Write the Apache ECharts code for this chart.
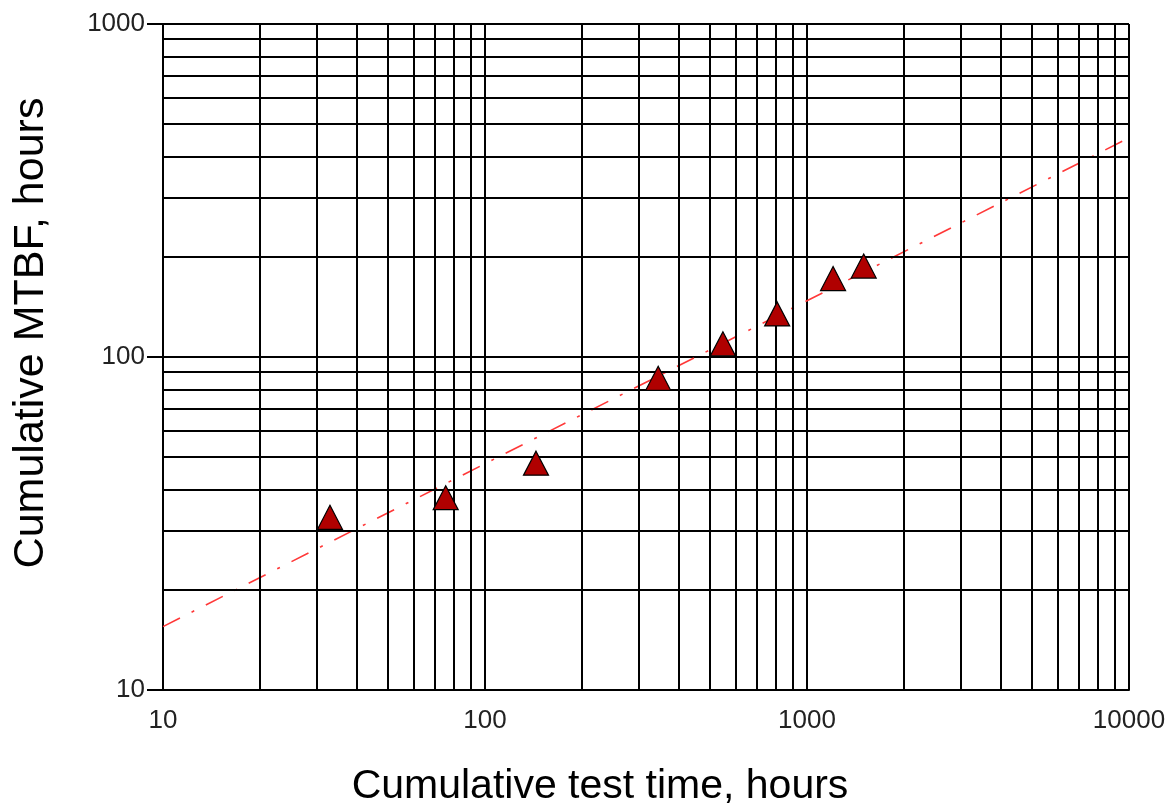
<!DOCTYPE html>
<html>
<head>
<meta charset="utf-8">
<script src="https://cdn.jsdelivr.net/npm/echarts@6/dist/echarts.min.js"></script>
<style>
  html, body { margin: 0; padding: 0; background: #ffffff; }
  #chart { width: 1172px; height: 803px; }
</style>
</head>
<body>
<div id="chart"></div>
<script>
// Cumulative test time (hours) at each failure and the cumulative MTBF there
const testTime = [33, 75.5, 144, 345, 548, 808, 1205, 1500];
const cumulativeMTBF = [33, 37.8, 48, 86.3, 109.6, 134.7, 172, 187.5];

// Fitted growth trend, given by its end points
const trendTime = [10, 10000];
const trendMTBF = [15.5, 455];

// Axis ranges (decades)
const xRange = [10, 10000];
const yRange = [10, 1000];

// Intermediate grid steps inside each decade
const minorSteps = [2, 3, 4, 5, 6, 7, 8, 9];

function minorValues(range) {
  const out = [];
  for (let d = range[0]; d < range[1]; d *= 10) {
    minorSteps.forEach(function (m) { out.push(d * m); });
  }
  return out;
}

const gridLines = minorValues(xRange).map(function (v) { return { xAxis: v }; })
  .concat(minorValues(yRange).map(function (v) { return { yAxis: v }; }));

const points = testTime.map(function (t, i) { return [t, cumulativeMTBF[i]]; });
const trend = trendTime.map(function (t, i) { return [t, trendMTBF[i]]; });

const font = '"Liberation Sans", Arial, sans-serif';
const ink = '#000000';
const plainNumber = function (v) { return String(Math.round(v)); };

const chart = echarts.init(document.getElementById('chart'), null, { renderer: 'canvas' });

chart.setOption({
  backgroundColor: '#ffffff',
  animation: false,
  grid: { left: 163, right: 43, top: 24, bottom: 113, containLabel: false, outerBoundsMode: 'none' },
  xAxis: {
    type: 'log',
    logBase: 10,
    min: xRange[0],
    max: xRange[1],
    name: 'Cumulative test time, hours',
    nameLocation: 'middle',
    nameGap: 76,
    nameTextStyle: { fontFamily: font, fontSize: 41, color: ink, padding: [0, 92, 0, 0] },
    axisLine: { show: true, lineStyle: { color: ink, width: 2 } },
    axisTick: { show: false },
    axisLabel: { fontFamily: font, fontSize: 26, color: '#222', margin: 18, formatter: plainNumber },
    splitLine: { show: true, lineStyle: { color: ink, width: 2 } }
  },
  yAxis: {
    type: 'log',
    logBase: 10,
    min: yRange[0],
    max: yRange[1],
    name: 'Cumulative MTBF, hours',
    nameLocation: 'middle',
    nameGap: 110,
    nameRotate: 90,
    nameTextStyle: { fontFamily: font, fontSize: 43, color: ink, padding: [0, 0, 0, 48] },
    axisLine: { show: true, lineStyle: { color: ink, width: 2 } },
    axisTick: { show: true, length: 16, lineStyle: { color: ink, width: 2 } },
    axisLabel: { fontFamily: font, fontSize: 26, color: '#222', margin: 18, formatter: plainNumber },
    splitLine: { show: true, lineStyle: { color: ink, width: 2 } }
  },
  series: [
    {
      name: 'grid',
      type: 'line',
      data: [],
      silent: true,
      z: 1,
      markLine: {
        silent: true,
        symbol: 'none',
        label: { show: false },
        animation: false,
        lineStyle: { color: ink, width: 2, type: 'solid' },
        data: gridLines
      }
    },
    {
      name: 'trend',
      type: 'line',
      data: trend,
      symbol: 'none',
      z: 3,
      lineStyle: { color: '#ff3838', width: 1.6, type: [19, 13, 3, 13] }
    },
    {
      name: 'MTBF',
      type: 'scatter',
      data: points,
      symbol: 'triangle',
      symbolSize: [25, 24],
      z: 5,
      itemStyle: { color: '#b00000', opacity: 1, borderColor: '#000000', borderWidth: 1.2 }
    }
  ]
});
</script>
</body>
</html>
